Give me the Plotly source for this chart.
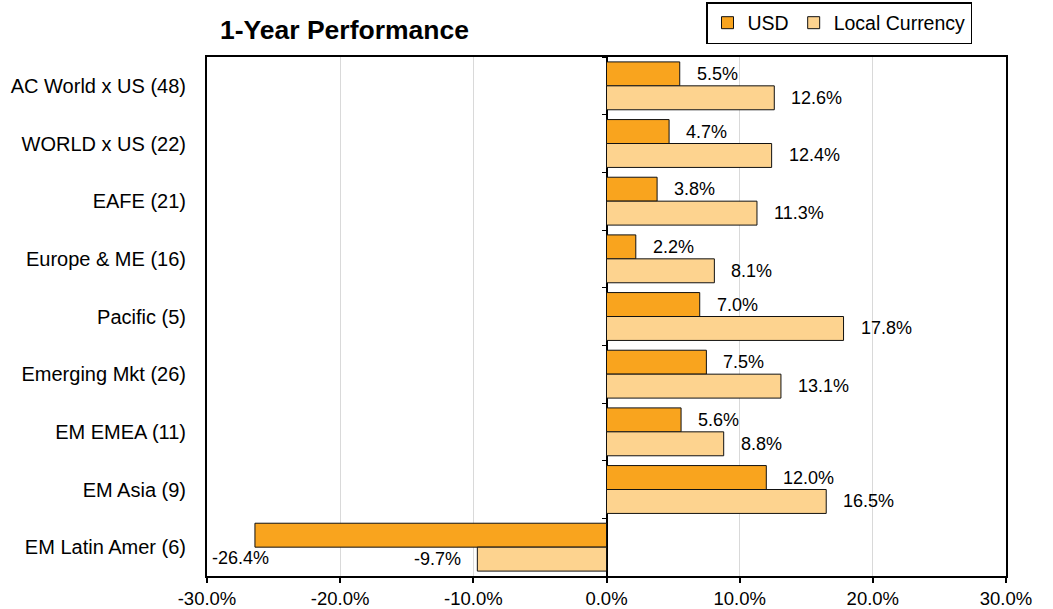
import plotly.graph_objects as go

categories = ["AC World x US (48)", "WORLD x US (22)", "EAFE (21)", "Europe & ME (16)",
              "Pacific (5)", "Emerging Mkt (26)", "EM EMEA (11)", "EM Asia (9)", "EM Latin Amer (6)"]
usd = [5.5, 4.7, 3.8, 2.2, 7.0, 7.5, 5.6, 12.0, -26.4]
local = [12.6, 12.4, 11.3, 8.1, 17.8, 13.1, 8.8, 16.5, -9.7]
x_ticks = [-30, -20, -10, 0, 10, 20, 30]
x_tick_labels = [f"{v:.1f}%" for v in x_ticks]

FONT = "Arial, Liberation Sans, sans-serif"
C_USD = "#F9A41E"
C_LOC = "#FDD38F"
n = len(categories)
bargap = 0.17
half = (1 - bargap) / 4  # center offset of each bar in its group

fig = go.Figure()
fig.add_trace(go.Bar(name="USD", y=categories, x=usd, orientation="h",
                     marker=dict(color=C_USD, line=dict(color="#111111", width=1))))
fig.add_trace(go.Bar(name="Local Currency", y=categories, x=local, orientation="h",
                     marker=dict(color=C_LOC, line=dict(color="#111111", width=1))))
# invisible trace to drive the secondary (center) category axis
fig.add_trace(go.Scatter(x=[0] * n, y=categories, yaxis="y2", mode="markers",
                         marker=dict(opacity=0), showlegend=False, hoverinfo="skip"))

LBL = dict(size=18, color="black", family=FONT)
annotations = []
for i, (u, l) in enumerate(zip(usd, local)):
    for val, off in ((u, -half), (l, half)):
        txt = f"{val:.1f}%"
        if val >= 0:
            annotations.append(dict(x=val, y=i + off, text=txt, xanchor="left", xshift=15,
                                    showarrow=False, font=LBL))
        elif val < x_ticks[0] + 10:
            # label pushed inside the plot, below the bar
            annotations.append(dict(x=x_ticks[0], y=i + half, text=txt, xanchor="left", xshift=3,
                                    yshift=1, showarrow=False, font=LBL))
        else:
            annotations.append(dict(x=val, y=i + off, text=txt, xanchor="right", xshift=-14,
                                    showarrow=False, font=LBL))

fig.update_layout(
    width=1053, height=609,
    margin=dict(l=207, r=47, t=57, b=33, autoexpand=False),
    paper_bgcolor="white", plot_bgcolor="white",
    font=dict(family=FONT, size=18, color="black"),
    barmode="group", bargap=bargap, bargroupgap=0,
    title=dict(text="<b>1-Year Performance</b>", x=220 / 1053, xref="container",
               xanchor="left", y=1 - 30 / 609, yanchor="middle",
               font=dict(size=26.5, family=FONT, color="black")),
    xaxis=dict(range=[x_ticks[0], x_ticks[-1]], tickvals=x_ticks, ticktext=x_tick_labels,
               showgrid=True, gridcolor="#D9D9D9", gridwidth=1,
               zeroline=True, zerolinecolor="black", zerolinewidth=1.5,
               showline=True, linecolor="black", linewidth=2, mirror=True,
               ticks="outside", ticklen=5, tickcolor="black", tickwidth=1.5,
               tickfont=dict(size=18.5)),
    yaxis=dict(type="category", categoryorder="array", categoryarray=categories,
               range=[n - 0.5, -0.5], showgrid=False, zeroline=False,
               showline=True, linecolor="black", linewidth=2, mirror=True,
               ticks="", ticklabelstandoff=15, tickfont=dict(size=20)),
    yaxis2=dict(type="category", categoryorder="array", categoryarray=categories,
                range=[n - 0.5, -0.5], overlaying="y", anchor="free", position=0.5,
                side="left", showticklabels=False, showgrid=False, zeroline=False,
                showline=False, ticks="outside", tickson="boundaries", ticklen=5,
                tickcolor="black", tickwidth=1),
    legend=dict(orientation="h", x=(706 - 207) / 799, y=1 + (57 - 2) / 519,
                xanchor="left", yanchor="top", bordercolor="black", borderwidth=1.5,
                font=dict(size=19.5), itemwidth=30, traceorder="normal", bgcolor="white"),
    annotations=annotations,
)

fig.write_html("out.html", config={"displayModeBar": False},
               post_script="document.body.style.margin='0px';")
